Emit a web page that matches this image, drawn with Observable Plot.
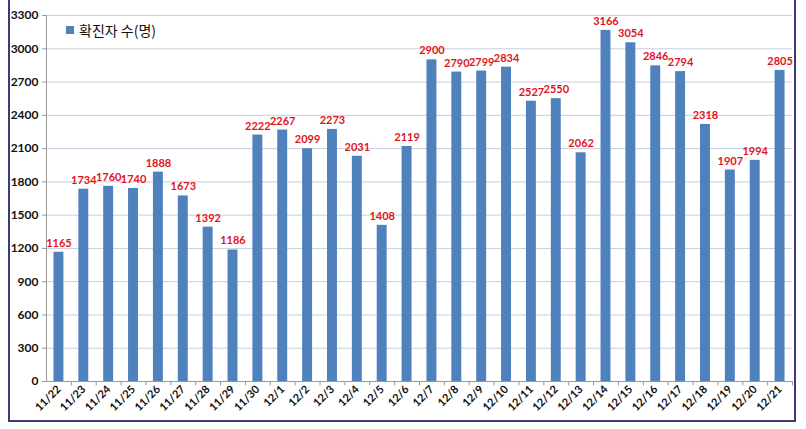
<!DOCTYPE html>
<html>
<head>
<meta charset="utf-8">
<script src="https://cdn.jsdelivr.net/npm/d3@7"></script>
<script src="https://cdn.jsdelivr.net/npm/@observablehq/plot@0.6"></script>
<style>
  html, body { margin: 0; padding: 0; background: #fff; }
  #wrap { position: relative; width: 806px; height: 429px; overflow: hidden; }
  #frame { position: absolute; left: 8px; top: -4px; width: 788px; height: 426px; border: 2px solid #3b3b7a; box-sizing: border-box; pointer-events: none; }
  #legend { position: absolute; left: 66px; top: 20px; font-family: "Noto Sans CJK KR", sans-serif; font-size: 14px; color: #111; display: flex; align-items: center; }
  #legend span.sw { display: inline-block; width: 8px; height: 8px; background: #4F81BD; margin-right: 5px; }
  svg { font-family: Lato, "Liberation Sans", sans-serif; }
</style>
</head>
<body>
<div id="wrap">
  <div id="chart"></div>
  <div id="legend"><span class="sw"></span>확진자 수(명)</div>
  <div id="frame"></div>
</div>
<script>
const dates = ["11/22","11/23","11/24","11/25","11/26","11/27","11/28","11/29","11/30",
  "12/1","12/2","12/3","12/4","12/5","12/6","12/7","12/8","12/9","12/10","12/11",
  "12/12","12/13","12/14","12/15","12/16","12/17","12/18","12/19","12/20","12/21"];
const cases = [1165,1734,1760,1740,1888,1673,1392,1186,2222,2267,2099,2273,2031,1408,2119,
  2900,2790,2799,2834,2527,2550,2062,3166,3054,2846,2794,2318,1907,1994,2805];
const yTicks = [0,300,600,900,1200,1500,1800,2100,2400,2700,3000,3300];

const data = dates.map((d, i) => ({date: d, value: cases[i]}));

const chart = Plot.plot({
  width: 806,
  height: 429,
  marginLeft: 46,
  marginRight: 14,
  marginTop: 15,
  marginBottom: 48,
  style: {fontSize: "12px", fontWeight: "bold", color: "#111"},
  x: {domain: dates, paddingInner: 0.6, paddingOuter: 0.3, round: false, label: null},
  y: {domain: [0, 3300], label: null},
  marks: [
    Plot.gridY(yTicks, {stroke: "#c5cfe0", strokeOpacity: 1}),
    Plot.barY(data, {x: "date", y: "value", fill: "#4F81BD"}),
    Plot.text(data, {x: "date", y: "value", text: d => String(d.value), dy: -9, fill: "#e0141b", fontSize: 11, fontWeight: "bold"}),
    Plot.frame({anchor: "left", stroke: "#999"}),
    Plot.frame({anchor: "bottom", stroke: "#999"}),
    Plot.axisY({ticks: yTicks, tickFormat: d => String(d), tickSize: 4, tickPadding: 4, stroke: "#999", fontSize: 12, fontWeight: "bold", label: null}),
    Plot.axisX({tickRotate: -45, tickSize: 0, tickPadding: 6, fontSize: 11, fontWeight: "bold", label: null}),
    Plot.ruleX(dates, {x: d => d, dx: 12.43, y1: 0, y2: -40, stroke: "#999"})
  ]
});
document.getElementById("chart").appendChild(chart);
</script>
</body>
</html>
